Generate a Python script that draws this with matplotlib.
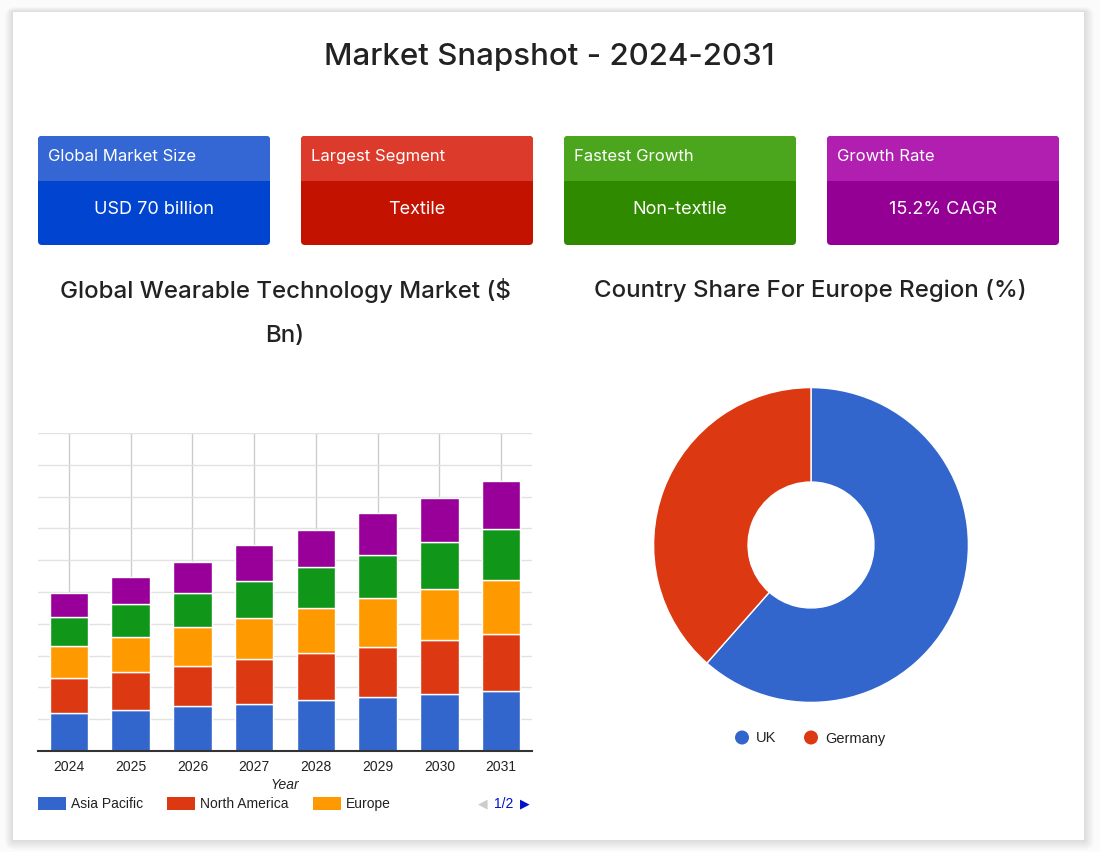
import matplotlib.pyplot as plt
from matplotlib.patches import FancyBboxPatch, Rectangle, Circle
import numpy as np

# ---- data ----
years = ['2024', '2025', '2026', '2027', '2028', '2029', '2030', '2031']
series_names = ['Asia Pacific', 'North America', 'Europe', 'Latin America', 'Middle East & Africa']
asia_pacific = [16.9, 18.0, 19.6, 20.8, 22.3, 23.6, 25.2, 26.4]
north_america = [15.1, 16.7, 17.9, 19.6, 20.8, 22.4, 23.6, 25.2]
europe = [14.1, 15.7, 16.9, 18.3, 19.8, 21.3, 22.4, 23.6]
latin_america = [12.8, 14.1, 15.2, 16.3, 17.9, 19.1, 20.7, 22.4]
mea = [10.6, 12.2, 13.8, 15.5, 16.7, 18.3, 19.6, 21.1]
series_colors = ['#3366cc', '#dc3912', '#ff9900', '#109618', '#990099']

countries = ['UK', 'Germany']
country_share = [61.5, 38.5]
country_colors = ['#3366cc', '#dc3912']

card_titles = ['Global Market Size', 'Largest Segment', 'Fastest Growth', 'Growth Rate']
card_values = ['USD 70 billion', 'Textile', 'Non-textile', '15.2% CAGR']
card_head_colors = ['#3467d4', '#dc3a2b', '#4ca61d', '#b01fb0']
card_body_colors = ['#0044d0', '#c41200', '#2f8a00', '#940094']

TITLE_FONT = ['Inter', 'DejaVu Sans']
CHART_FONT = ['Liberation Sans', 'DejaVu Sans']

fig = plt.figure(figsize=(11, 8.53), dpi=100)
fig.patch.set_facecolor('#fbfbfb')

# background axes in pixel units
ax0 = fig.add_axes([0, 0, 1, 1])
ax0.set_xlim(0, 1100)
ax0.set_ylim(853, 0)
ax0.axis('off')

# soft shadow + white panel
for d in range(10, 0, -1):
    ax0.add_patch(FancyBboxPatch((13 - d * 0.8, 13 - d * 0.5), 1071 + d * 1.8, 828 + d * 1.5,
                                 boxstyle='round,pad=0,rounding_size=%d' % d,
                                 facecolor='black', alpha=0.012, edgecolor='none', zorder=1))
ax0.add_patch(Rectangle((13, 13), 1071, 828, facecolor='white', edgecolor='none', zorder=2))

ax0.text(549, 57, 'Market Snapshot - 2024-2031', ha='center', va='center',
         fontsize=22.5, fontweight='medium', color='#222222', family=TITLE_FONT, zorder=3)

# cards
card_x = [38, 301, 564, 827]
for cx, t, v, hc, bc in zip(card_x, card_titles, card_values, card_head_colors, card_body_colors):
    ax0.add_patch(FancyBboxPatch((cx, 137), 232, 109, boxstyle='round,pad=0,rounding_size=4',
                                 facecolor=bc, edgecolor='none', zorder=3))
    ax0.add_patch(FancyBboxPatch((cx, 137), 232, 45, boxstyle='round,pad=0,rounding_size=4',
                                 facecolor=hc, edgecolor='none', zorder=4))
    ax0.add_patch(Rectangle((cx, 170), 232, 12, facecolor=hc, edgecolor='none', zorder=4))
    ax0.text(cx + 10, 156, t, ha='left', va='center', fontsize=12, color='white',
             family=TITLE_FONT, zorder=5)
    ax0.text(cx + 116, 209, v, ha='center', va='center', fontsize=13, color='white',
             family=TITLE_FONT, zorder=5)

ax0.text(285, 290, 'Global Wearable Technology Market ($', ha='center', va='center',
         fontsize=17.3, fontweight='medium', color='#222222', family=TITLE_FONT, zorder=3)
ax0.text(285, 336, 'Bn)', ha='center', va='center',
         fontsize=17.3, fontweight='medium', color='#222222', family=TITLE_FONT, zorder=3)
ax0.text(810, 290, 'Country Share For Europe Region (%)', ha='center', va='center',
         fontsize=17.3, fontweight='medium', color='#222222', family=TITLE_FONT, zorder=3)

# ---- stacked bar chart ----
ax = fig.add_axes([38 / 1100, 1 - 752 / 853, 494 / 1100, 318 / 853])
ax.set_zorder(5)
ax.patch.set_alpha(0)
x = np.arange(len(years))
stack = [asia_pacific, north_america, europe, latin_america, mea]
bottom = np.zeros(len(years))
for vals, col, name in zip(stack, series_colors, series_names):
    ax.bar(x, vals, bottom=bottom, width=0.62, color=col, edgecolor='white',
           linewidth=1, label=name, zorder=3)
    bottom += np.array(vals)
ax.set_xlim(-0.5, len(years) - 0.5)
ax.set_ylim(0, 140)
ax.set_yticks(np.arange(0, 141, 14))
ax.set_yticklabels([])
ax.tick_params(axis='y', length=0)
ax.tick_params(axis='x', length=0, pad=6)
ax.set_xticks(x)
ax.set_xticklabels(years, fontsize=10, color='#222222', family=CHART_FONT)
ax.grid(axis='y', color='#e2e2e2', lw=1, zorder=0)
ax.grid(axis='x', color='#cccccc', lw=1, zorder=0)
ax.axhline(140, color='#cccccc', lw=1.2, zorder=1)
for s in ['top', 'right', 'left']:
    ax.spines[s].set_visible(False)
ax.spines['bottom'].set_color('#333333')
ax.spines['bottom'].set_linewidth(1.5)
ax.spines['bottom'].set_zorder(4)
ax.set_xlabel('Year', fontsize=10, style='italic', color='#222222', family=CHART_FONT, labelpad=3)

# bar legend (first page)
leg_x = [38, 167, 313]
for lx, name, col in zip(leg_x, series_names[:3], series_colors[:3]):
    ax0.add_patch(Rectangle((lx, 798), 28, 13, facecolor=col, edgecolor='none', zorder=3))
    ax0.text(lx + 33, 804.5, name, ha='left', va='center', fontsize=10, color='#222222',
             family=CHART_FONT, zorder=3)
ax0.text(483, 804, '\u25c0', ha='center', va='center', fontsize=9, color='#cccccc',
         family='DejaVu Sans', zorder=3)
ax0.text(504, 804.5, '1/2', ha='center', va='center', fontsize=10, color='#0011cc',
         family=CHART_FONT, zorder=3)
ax0.text(525, 804, '\u25b6', ha='center', va='center', fontsize=9, color='#0011cc',
         family='DejaVu Sans', zorder=3)

# ---- donut ----
axp = fig.add_axes([652 / 1100, 1 - 705 / 853, 318 / 1100, 318 / 853])
axp.set_zorder(5)
axp.pie(country_share, colors=country_colors, startangle=90, counterclock=False,
        radius=1, wedgeprops=dict(width=0.6, edgecolor='white', linewidth=1))
axp.set_xlim(-1.01, 1.01)
axp.set_ylim(-1.01, 1.01)
axp.set_aspect('equal')
axp.axis('off')

leg_px = [742, 811]
for px, name, col in zip(leg_px, countries, country_colors):
    ax0.add_patch(Circle((px, 738.5), 7, facecolor=col, edgecolor='none', zorder=3))
    ax0.text(px + 14, 738.5, name, ha='left', va='center', fontsize=10.5, color='#222222',
             family=CHART_FONT, zorder=3)

fig.savefig('out.png', dpi=100, facecolor=fig.get_facecolor())
